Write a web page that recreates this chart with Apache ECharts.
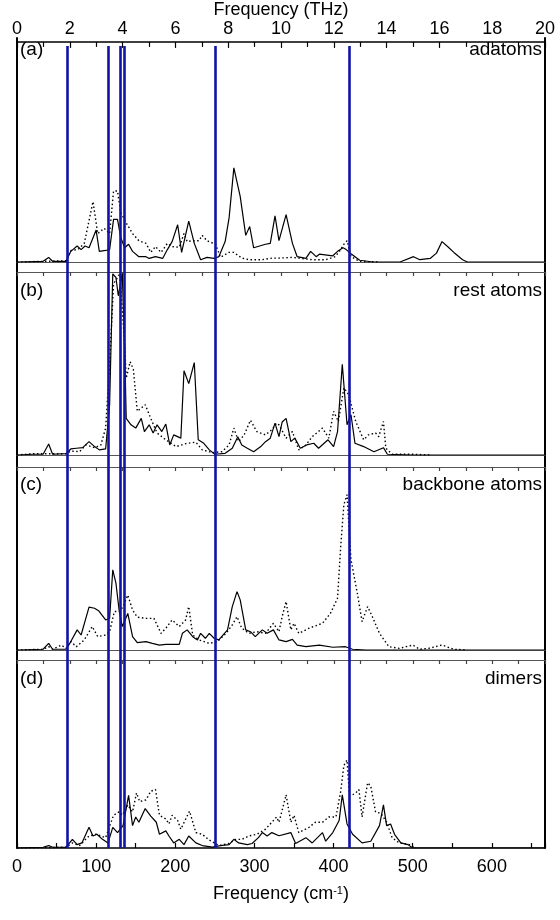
<!DOCTYPE html>
<html>
<head>
<meta charset="utf-8">
<script src="https://cdn.jsdelivr.net/npm/echarts@6/dist/echarts.min.js"></script>
<style>html,body{margin:0;padding:0;background:#fff}#c{width:560px;height:920px}</style>
</head>
<body>
<div id="c"></div>
<script>
// ---- data (x in cm^-1, y in arbitrary units, 100 = panel height) ----
var panelNames = ['adatoms', 'rest atoms', 'backbone atoms', 'dimers'];
var panelTags = ['(a)', '(b)', '(c)', '(d)'];
var cmTicks = [0, 100, 200, 300, 400, 500, 600];
var thzTicks = [0, 2, 4, 6, 8, 10, 12, 14, 16, 18, 20];
var blueLines = [63, 115, 130, 136, 250, 420];

var adatomsSolid = [[0,0],[33,0.4],[40,2.6],[45,0.4],[62,0.4],[68,6],[76,9],[81,7],[86,9],[91,8],[100,18],[104,6],[112,6.5],[117,7],[122,24],[127,24],[131,14],[136,8],[141,10],[146,6],[154,3],[163,3],[167,2],[175,3],[184,2],[190,7],[196,11.5],[203,21],[208,5.4],[217,23],[224,10.5],[232,1.3],[240,2.6],[249,2],[255,3],[263,11.5],[268,25],[274,53],[282,37],[289,15],[294,20],[299,8],[314,10],[320,10.5],[326,26],[331,12],[340,26.7],[348,10.5],[354,3],[365,2],[371,6],[378,3],[382,4.4],[399,3.5],[405,6],[412,8],[416,7],[422,4.6],[433,1],[450,0],[484,0],[501,3],[509,1.3],[522,2],[530,5],[537,11.5],[544,8.7],[552,5.4],[563,1.3],[569,0],[667,0]];
var adatomsDotted = [[0,0],[62,0.7],[68,6.5],[77,7],[85,10.5],[96,34],[102,16],[110,19],[117,16],[122,40],[127,40],[131,28],[138,22],[146,16],[154,12],[163,10.5],[169,5.4],[175,8.7],[182,5.4],[190,10.5],[196,8.7],[205,8.3],[211,16],[215,11.5],[222,12],[230,12],[234,15],[240,12],[251,10],[257,2.6],[268,5.4],[274,5.4],[284,2.2],[293,1.3],[310,1.3],[322,2.2],[331,2.2],[348,2.6],[356,2.2],[373,1.3],[390,1.3],[402,3],[409,7],[413,10],[417,12],[422,3],[433,0.4],[458,0]];
var restSolid = [[0,0],[20,0.4],[33,0.4],[40,6],[45,0.4],[62,0.7],[68,3.3],[75,3.7],[83,4],[91,7.3],[98,4.6],[104,2.8],[112,3.3],[117,27.5],[121,99],[125,97],[128,87],[133,99],[136,59],[138,20],[144,16.5],[150,14.7],[157,20],[161,12.8],[167,16.5],[172,12],[177,16.5],[183,12.8],[188,16.9],[193,5.5],[198,11],[207,9.2],[211,46],[217,39],[224,50.5],[229,8.3],[236,6.4],[243,2.8],[250,0.4],[263,0.9],[272,3.7],[279,10],[284,5.5],[291,3.7],[299,1.8],[308,4.6],[314,7.3],[320,9.2],[326,17.4],[331,10],[335,18],[340,20],[346,7.3],[351,9.2],[358,3.7],[366,5.5],[375,6.4],[381,3.7],[393,8.3],[400,4.6],[405,12.8],[411,49.5],[417,16.5],[422,22],[427,6.4],[438,4.6],[451,1.8],[463,4],[468,0.4],[500,0],[667,0]];
var restDotted = [[0,0],[20,0.7],[62,0.7],[68,2.2],[79,1.8],[87,5.5],[98,4],[106,5.5],[112,14.7],[117,49.5],[122,93.6],[130,99],[136,60.5],[138,42],[143,51],[147,46.8],[152,23.9],[162,27.5],[169,20],[177,12],[188,8.3],[201,4.6],[215,6.4],[226,7],[234,2.8],[247,1.3],[259,1.8],[268,5.5],[274,14.7],[280,7.3],[287,11],[295,19],[303,12.8],[314,11],[322,13.8],[328,17.4],[331,16.5],[340,9.2],[348,12.8],[356,2.8],[365,5.5],[373,10],[386,14.7],[394,9.2],[400,23.9],[406,18.3],[413,36.7],[419,33],[428,18.3],[438,8.3],[444,11],[453,12],[457,10],[463,18.3],[466,3.7],[474,0.4],[500,0.4],[522,0]];
var backboneSolid = [[0,0],[33,0.4],[40,3.6],[45,0.4],[62,0.4],[68,4.6],[76,11],[81,8.2],[91,23.4],[98,22.8],[103,21.5],[112,16.4],[117,17.3],[121,43.8],[125,36.5],[129,21.9],[133,12.8],[140,20],[146,7.3],[152,4],[163,4.6],[171,3.6],[180,2.7],[188,3.1],[205,3.1],[209,9.1],[215,11],[222,7.3],[228,5.5],[232,9.1],[238,6.4],[243,9.1],[249,6.4],[255,5.5],[266,11],[272,23.7],[278,31.9],[282,27.4],[289,11],[295,10],[301,7.3],[310,11],[316,9.1],[324,11],[331,5.5],[340,4.6],[348,5.8],[354,2.7],[365,1.8],[382,2.7],[399,1.5],[415,1.8],[424,0.4],[441,0],[667,0]];
var backboneDotted = [[0,0],[33,0.4],[40,1.8],[45,0.4],[56,2.7],[62,0.9],[68,4.6],[75,1.8],[85,5.5],[95,12.8],[102,7.3],[112,8.2],[117,10],[123,21],[129,21],[134,23.7],[140,30],[146,21.9],[152,17.9],[163,17.3],[173,17.3],[182,9.1],[188,11.9],[196,16.4],[205,12.8],[213,16.4],[217,23.7],[222,8.2],[230,5.5],[243,3.6],[253,4.6],[264,9.1],[272,13.7],[278,18.2],[284,11.9],[293,9.1],[303,10],[314,9.1],[324,14.6],[331,10],[335,18.2],[340,26.5],[346,11],[350,14.6],[356,9.1],[369,11.9],[386,14.6],[396,20],[405,28.3],[409,56.6],[413,79.4],[417,84.9],[422,49.3],[430,31],[436,15.5],[443,23.7],[449,18.2],[458,9.1],[470,1.8],[483,0.9],[500,2.7],[509,0.4],[520,0.9],[537,2.7],[552,0.4],[569,0]];
var dimersSolid = [[0,0],[33,0.4],[40,1.3],[45,0.4],[62,0.4],[70,4.6],[76,1.8],[82,2.7],[91,11],[96,6.4],[101,7.3],[108,4.6],[115,2.7],[121,11],[127,8.2],[134,11.9],[141,28],[146,11.9],[150,16.5],[154,13.7],[162,21],[169,17],[176,13.7],[180,7.3],[188,9.1],[192,6.4],[198,2.7],[205,4.6],[211,1.8],[217,6.4],[226,2.7],[234,1.3],[247,0.5],[257,1.3],[268,1.8],[274,4.6],[280,2.7],[291,1.8],[297,2.4],[305,5.5],[310,8.2],[316,6.4],[322,8.2],[331,6.5],[346,8.2],[352,2.4],[365,5.5],[373,2.7],[386,8.2],[390,3.6],[399,8.2],[407,14.6],[411,28.3],[417,12.8],[424,7.3],[436,2.7],[447,3.6],[458,11.9],[463,22.9],[467,11.9],[472,12.8],[477,7.3],[485,2.7],[494,1.8],[500,0],[667,0]];
var dimersDotted = [[0,0],[62,0.4],[70,2.7],[79,1.3],[91,6.4],[100,7.3],[112,5.5],[122,17.4],[129,19.2],[133,17.4],[140,22.9],[146,19.2],[151,29.3],[155,24.7],[163,25.6],[169,30.2],[175,31.1],[180,17.4],[188,15.5],[192,12.8],[196,17.4],[203,14.6],[207,10],[218,19.6],[226,8.2],[234,7.3],[243,4.2],[255,1.3],[268,2.4],[276,4.6],[284,4.6],[293,6.4],[303,7.3],[314,10],[322,13.7],[328,16.5],[331,13.7],[335,20],[340,28.3],[346,13.7],[350,17.4],[356,8.2],[369,11],[377,13.7],[386,13.7],[394,16.5],[403,16.5],[409,30.2],[413,43.9],[417,46.8],[420,28.3],[424,28.3],[428,29.3],[432,31.1],[436,16.5],[443,34.7],[447,32.9],[453,19.2],[460,18.3],[467,13.7],[474,5.5],[483,2.7],[496,1.8],[504,0]];

var solidSets = [adatomsSolid, restSolid, backboneSolid, dimersSolid];
var dottedSets = [adatomsDotted, restDotted, backboneDotted, dimersDotted];
var yMaxes = [124, 100, 100, 100];

// ---- layout ----
var CM_MAX = 20 * 33.356;
var LEFT = 17, RIGHT = 15;
var panels = [{top: 38, h: 224, lab: 2}, {top: 272, h: 183, lab: 9}, {top: 467, h: 183, lab: 8}, {top: 660, h: 188, lab: 9}];
var FONT = 'Liberation Sans, Arial, sans-serif';

var grids = [], xAxes = [], yAxes = [], series = [], graphics = [];
panels.forEach(function (p, i) {
  grids.push({left: LEFT, right: RIGHT, top: p.top, height: p.h, show: false});
  var last = i === 3, first = i === 0;
  // bottom cm-1 axis
  xAxes.push({
    gridIndex: i, type: 'value', min: 0, max: CM_MAX, interval: 100, position: 'bottom',
    axisLine: {show: true, onZero: false, lineStyle: {color: last ? '#000' : '#555', width: last ? 1.5 : 1}},
    axisTick: {show: last, inside: true, length: 5, lineStyle: {color: '#000', width: 1.2}},
    minorTick: {show: last, splitNumber: 2, length: 5, lineStyle: {color: '#000', width: 1.2}},
    axisLabel: {show: last, margin: 10, fontSize: 18, color: '#000', fontFamily: FONT,
      formatter: function (v) { return cmTicks.indexOf(v) >= 0 ? String(v) : ''; }},
    splitLine: {show: false},
    name: last ? 'Frequency (cm{sup|-1})' : '', nameLocation: 'middle', nameGap: 37,
    nameTextStyle: {fontSize: 18, color: '#000', fontFamily: FONT, rich: {sup: {fontSize: 11, verticalAlign: 'top', padding: [0, 0, 8, 0], fontFamily: FONT, color: '#000'}}}
  });
  // top THz axis
  xAxes.push({
    gridIndex: i, type: 'value', min: 0, max: 20, interval: 2, position: 'top',
    axisLine: {show: true, onZero: false, lineStyle: {color: first ? '#000' : '#555', width: first ? 1.5 : 1}},
    axisTick: {show: true, inside: true, length: first ? 6 : 4, lineStyle: {color: first ? '#000' : '#444', width: 1.2}},
    minorTick: {show: true, splitNumber: 2, length: first ? 5 : 4, lineStyle: {color: first ? '#000' : '#444', width: 1.2}},
    axisLabel: {show: first, margin: 4, fontSize: 18, color: '#000', fontFamily: FONT,
      formatter: function (v) { return thzTicks.indexOf(v) >= 0 ? String(v) : ''; }},
    splitLine: {show: false},
    name: first ? 'Frequency (THz)' : '', nameLocation: 'middle', nameGap: 17,
    nameTextStyle: {fontSize: 18, color: '#000', fontFamily: FONT}
  });
  yAxes.push({gridIndex: i, type: 'value', min: 0, max: yMaxes[i], show: false});
  series.push({type: 'line', xAxisIndex: 2 * i, yAxisIndex: i, data: solidSets[i], showSymbol: false, symbol: 'none',
    lineStyle: {color: '#000', width: 1.2}, silent: true, animation: false, z: 3});
  series.push({type: 'line', xAxisIndex: 2 * i, yAxisIndex: i, data: dottedSets[i], showSymbol: false, symbol: 'none',
    lineStyle: {color: '#000', width: 1.4, type: [1.5, 2.5]}, silent: true, animation: false, z: 3});
  graphics.push({type: 'text', left: LEFT + 3, top: p.top + p.lab,
    style: {text: panelTags[i], fontSize: 19, fontFamily: FONT, fill: '#000'}});
  graphics.push({type: 'text', right: RIGHT + 3, top: p.top + p.lab,
    style: {text: panelNames[i], fontSize: 19, fontFamily: FONT, fill: '#000', textAlign: 'right'}});
});

// overlay grid: continuous side axes + blue reference lines
var OV = 4;
grids.push({left: LEFT, right: RIGHT, top: 38, bottom: 920 - 848, show: false});
xAxes.push({gridIndex: OV, type: 'value', min: 0, max: CM_MAX, show: false});
yAxes.push({gridIndex: OV, type: 'value', min: 0, max: 1, position: 'left',
  axisLine: {show: true, lineStyle: {color: '#000', width: 2}}, axisTick: {show: false}, axisLabel: {show: false}, splitLine: {show: false}});
yAxes.push({gridIndex: OV, type: 'value', min: 0, max: 1, position: 'right',
  axisLine: {show: true, lineStyle: {color: '#000', width: 2}}, axisTick: {show: false}, axisLabel: {show: false}, splitLine: {show: false}});
var blueTop = 0.99;
series.push({type: 'line', xAxisIndex: 2 * 4, yAxisIndex: 4, data: [], silent: true, animation: false, z: 5,
  markLine: {silent: true, symbol: 'none', animation: false, label: {show: false},
    lineStyle: {color: '#1212a6', width: 2.6, type: 'solid'},
    data: blueLines.map(function (v) { return [{coord: [v, 0]}, {coord: [v, blueTop]}]; })}});

var chart = echarts.init(document.getElementById('c'), null, {renderer: 'canvas'});
chart.setOption({
  animation: false,
  backgroundColor: '#fff',
  grid: grids, xAxis: xAxes, yAxis: yAxes, series: series, graphic: graphics
});
</script>
</body>
</html>
